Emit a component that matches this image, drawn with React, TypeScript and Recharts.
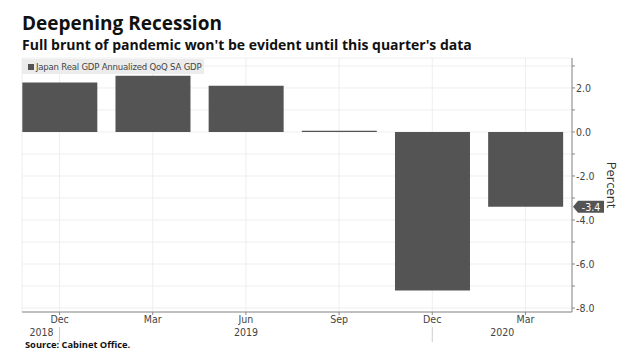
import React from 'react';
import { BarChart, Bar, XAxis, YAxis, CartesianGrid, ReferenceLine } from 'recharts';

const quarters = ['Dec 2018', 'Mar 2019', 'Jun 2019', 'Sep 2019', 'Dec 2019', 'Mar 2020'];
const monthLabels = ['Dec', 'Mar', 'Jun', 'Sep', 'Dec', 'Mar'];
const gdpGrowth = [2.25, 2.55, 2.1, 0.05, -7.2, -3.4];
const yTicks = [-8, -7, -6, -5, -4, -3, -2, -1, 0, 1, 2, 3];
const seriesName = 'Japan Real GDP Annualized QoQ SA GDP';

const data = quarters.map((q, i) => ({ quarter: q, month: monthLabels[i], gdp: gdpGrowth[i] }));
const latest = gdpGrowth[gdpGrowth.length - 1];

const axisFont = "'DejaVu Sans Condensed', 'Roboto', sans-serif";
const BAR_COLOR = '#545454';

const MonthTick = (props: any) => {
  const { x, y, index } = props;
  const month = monthLabels[index];
  return (
    <g fontFamily={axisFont} fontSize={10.5} fill="#444">
      <text x={x} y={y + 6} textAnchor="middle" fill="#444">{month}</text>
      {index === 0 && (
        <>
          <line x1={x} x2={x} y1={y + 10} y2={y + 25} stroke="#ccc" />
          <text x={x - 6} y={y + 19} textAnchor="end" fill="#444">2018</text>
        </>
      )}
      {index === 2 && <text x={x} y={y + 19} textAnchor="middle" fill="#444">2019</text>}
      {index === 4 && (
        <>
          <line x1={x} x2={x} y1={y + 10} y2={y + 25} stroke="#ccc" />
          <text x={x + 70} y={y + 19} textAnchor="middle" fill="#444">2020</text>
        </>
      )}
    </g>
  );
};

// little dark tag with the latest value, pointing at the right axis
const ValueTag = (props: any) => {
  const vb = props.viewBox || {};
  const x = vb.x + vb.width + 1;
  const y = vb.y;
  return (
    <g>
      <path d={`M${x},${y} L${x + 5},${y - 6} L${x + 31},${y - 6} L${x + 31},${y + 6} L${x + 5},${y + 6} Z`} fill={BAR_COLOR} />
      <text x={x + 18} y={y + 4} textAnchor="middle" fill="#fff" fontSize={10.5} fontFamily={axisFont}>
        {latest.toFixed(1)}
      </text>
    </g>
  );
};

export default function App() {
  return (
    <div style={{ position: 'absolute', left: 0, top: 0, width: 628, height: 357, background: '#fff', overflow: 'hidden' }}>
      <div style={{ position: 'absolute', left: 22, top: 14, fontFamily: "'Open Sans', sans-serif", fontWeight: 700, fontSize: 19, lineHeight: '19px', color: '#111' }}>
        Deepening Recession
      </div>
      <div style={{ position: 'absolute', left: 22, top: 38, fontFamily: "'Open Sans', sans-serif", fontWeight: 700, fontSize: 14, lineHeight: '14px', color: '#111', whiteSpace: 'nowrap' }}>
        Full brunt of pandemic won't be evident until this quarter's data
      </div>

      <BarChart
        width={628}
        height={357}
        data={data}
        margin={{ top: 58, right: 0, bottom: 15, left: 22 }}
        barCategoryGap="10%"
      >
        <CartesianGrid stroke="#eeeeee" />
        <XAxis
          dataKey="quarter"
          padding={{ left: -9, right: 0 }}
          height={30}
          tickSize={3}
          tickLine={{ stroke: '#888' }}
          axisLine={{ stroke: '#888' }}
          interval={0}
          tick={<MonthTick />}
        />
        <YAxis
          orientation="right"
          width={56}
          domain={[-8.18, 3.36]}
          ticks={yTicks}
          allowDataOverflow
          interval={0}
          tickSize={3}
          tickMargin={1}
          axisLine={{ stroke: '#888' }}
          tickLine={{ stroke: '#888' }}
          tick={{ fill: '#444', fontSize: 10.5, fontFamily: axisFont }}
          tickFormatter={(v: number) => (v % 2 === 0 ? v.toFixed(1) : '')}
          label={{ value: 'Percent', angle: 90, position: 'insideRight', offset: 16, style: { fill: '#333', fontSize: 13, fontFamily: "'Open Sans', sans-serif", textAnchor: 'middle' } }}
        />
        <ReferenceLine y={latest} stroke="none" label={<ValueTag />} />
        <Bar dataKey="gdp" fill={BAR_COLOR} isAnimationActive={false} name={seriesName} />
      </BarChart>

      <div style={{ position: 'absolute', left: 22, top: 59, width: 182, height: 15, background: '#ececec', display: 'flex', alignItems: 'center', fontFamily: axisFont, fontSize: 9.5, letterSpacing: -0.2, color: '#444', whiteSpace: 'nowrap', overflow: 'hidden' }}>
        <span style={{ display: 'inline-block', width: 6, height: 6, background: BAR_COLOR, marginLeft: 6, marginRight: 2 }} />
        {seriesName}
      </div>

      <div style={{ position: 'absolute', left: 25, top: 340, fontFamily: "'Open Sans', sans-serif", fontWeight: 700, fontSize: 9.3, lineHeight: '10px', color: '#111' }}>
        Source: Cabinet Office.
      </div>
    </div>
  );
}
